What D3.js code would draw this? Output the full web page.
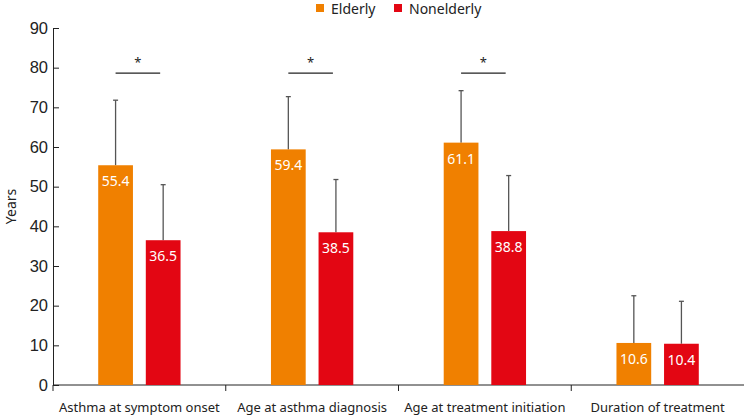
<!DOCTYPE html>
<html>
<head>
<meta charset="utf-8">
<script src="https://cdn.jsdelivr.net/npm/d3@7"></script>
<style>
  body { margin: 0; background: #fff; }
  svg { display: block; }
</style>
</head>
<body>
<div id="chart"></div>
<script>
// data
let categories = ['Asthma at symptom onset', 'Age at asthma diagnosis', 'Age at treatment initiation', 'Duration of treatment'];
let groups = ['Elderly', 'Nonelderly'];
let elderly = [55.4, 59.4, 61.1, 10.6];
let nonelderly = [36.5, 38.5, 38.8, 10.4];
let elderlySD = [16.4, 13.3, 13.1, 11.9];
let nonelderlySD = [14.0, 13.3, 14.0, 10.7];
let significant = [true, true, true, false];
let yTicks = [0, 10, 20, 30, 40, 50, 60, 70, 80, 90];

let colors = { Elderly: '#f08000', Nonelderly: '#e30613' };

let W = 746, H = 417;
let margin = { top: 28, right: 2, bottom: 32, left: 53 };

let svg = d3.select('#chart').append('svg').attr('width', W).attr('height', H);

let x = d3.scaleBand().domain(categories).range([margin.left, W - margin.right]);
let xs = d3.scaleBand().domain(groups).range([0, x.bandwidth()]).paddingInner(0.27).paddingOuter(0.95);
let y = d3.scaleLinear().domain([0, 90]).range([H - margin.bottom, margin.top]);

let values = { Elderly: elderly, Nonelderly: nonelderly };
let sds = { Elderly: elderlySD, Nonelderly: nonelderlySD };

// y axis (ticks point inward)
let yAxis = svg.append('g').attr('transform', `translate(${margin.left},0)`)
  .call(d3.axisRight(y).tickValues(yTicks).tickSize(6).tickFormat(d3.format('d')));
yAxis.select('.domain').attr('stroke', '#222');
yAxis.selectAll('.tick line').attr('stroke', '#222');
yAxis.selectAll('.tick text').attr('x', -5).attr('text-anchor', 'end')
  .style('font-family', 'Liberation Sans, Arial, sans-serif').style('font-size', '16.5px').attr('fill', '#222');

// x axis with ticks at band boundaries
let xg = svg.append('g').attr('transform', `translate(0,${y(0)})`);
xg.append('line').attr('x1', margin.left).attr('x2', W - margin.right).attr('stroke', '#222');
categories.forEach(function(c, i) {
  xg.append('line').attr('x1', x(c)).attr('x2', x(c)).attr('y1', 0).attr('y2', 6).attr('stroke', '#222');
  xg.append('text').text(c).attr('x', x(c) + x.bandwidth() / 2).attr('y', 27)
    .attr('text-anchor', 'middle').attr('fill', '#222')
    .style('font-family', 'Noto Sans, sans-serif').style('font-size', '13px');
});

// y axis title
svg.append('text').text('Years').attr('transform', `translate(16,${(y(0) + y(90)) / 2}) rotate(-90)`)
  .attr('text-anchor', 'middle').attr('fill', '#222')
  .style('font-family', 'Noto Sans, sans-serif').style('font-size', '14px');

// bars, error bars, labels
categories.forEach(function(c, i) {
  groups.forEach(function(g) {
    let v = values[g][i];
    let bx = x(c) + xs(g);
    let cx = bx + xs.bandwidth() / 2;
    let top = y(v + sds[g][i]);

    svg.append('line').attr('x1', cx).attr('x2', cx).attr('y1', y(v)).attr('y2', top)
      .attr('stroke', '#555').attr('stroke-width', 1.3);
    svg.append('line').attr('x1', cx - 2.5).attr('x2', cx + 2.5).attr('y1', top).attr('y2', top)
      .attr('stroke', '#555').attr('stroke-width', 1.3);

    svg.append('rect').attr('x', bx).attr('y', y(v)).attr('width', xs.bandwidth())
      .attr('height', y(0) - y(v)).attr('fill', colors[g]);

    svg.append('text').text(v.toFixed(1)).attr('x', cx).attr('y', y(v) + 21)
      .attr('text-anchor', 'middle').attr('fill', '#fff')
      .style('font-family', 'Noto Sans, sans-serif').style('font-size', '14px');
  });

  // significance marker
  if (significant[i]) {
    let x1 = x(c) + xs('Elderly') + xs.bandwidth() / 2;
    let x2 = x(c) + xs('Nonelderly') + xs.bandwidth() / 2 - 3;
    svg.append('line').attr('x1', x1).attr('x2', x2).attr('y1', y(78.6)).attr('y2', y(78.6))
      .attr('stroke', '#222').attr('stroke-width', 1.2);
    svg.append('text').text('*').attr('x', (x1 + x2) / 2).attr('y', y(78.6) - 6)
      .attr('text-anchor', 'middle').attr('fill', '#222')
      .style('font-family', 'Noto Sans, sans-serif').style('font-size', '13px');
  }
});

// legend
let legend = svg.append('g').attr('transform', 'translate(316,4)');
let lx = 0;
groups.forEach(function(g) {
  legend.append('rect').attr('x', lx).attr('y', 0).attr('width', 8).attr('height', 8).attr('fill', colors[g]);
  legend.append('text').text(g).attr('x', lx + 15).attr('y', 9.5)
    .attr('fill', '#222').style('font-family', 'Noto Sans, sans-serif').style('font-size', '14px');
  lx += 78;
});
</script>
</body>
</html>
